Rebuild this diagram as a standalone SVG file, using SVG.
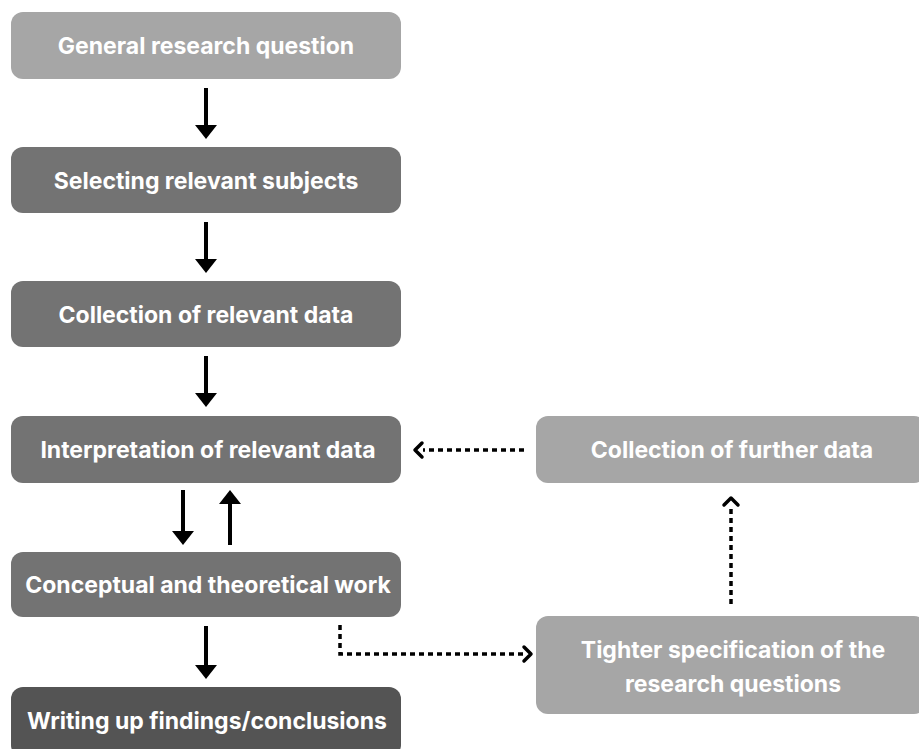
<svg xmlns="http://www.w3.org/2000/svg" width="919" height="749" viewBox="0 0 919 749">
<defs>
<style>
.t{font-family:Inter,"Liberation Sans",sans-serif;font-weight:700;font-size:23px;fill:#ffffff;text-anchor:middle}
.light{fill:#a6a6a6}
.mid{fill:#737373}
.dark{fill:#545454}
.solid{stroke:#000;stroke-width:4;fill:none}
.dot{stroke:#000;stroke-width:3.5;fill:none;stroke-dasharray:5 4}
.chev{stroke:#000;stroke-width:3.5;fill:none;stroke-linecap:round;stroke-linejoin:round}
</style>
</defs>
<rect width="919" height="749" fill="#ffffff"/>
<g id="n1"><rect class="light" x="11" y="12" width="390" height="67" rx="12"/><text class="t" x="206" y="54">General research question</text></g>
<g id="n2"><rect class="mid" x="11" y="147" width="390" height="66" rx="12"/><text class="t" x="206" y="189">Selecting relevant subjects</text></g>
<g id="n3"><rect class="mid" x="11" y="281" width="390" height="66" rx="12"/><text class="t" x="206" y="323">Collection of relevant data</text></g>
<g id="n4"><rect class="mid" x="11" y="416" width="390" height="67" rx="12"/><text class="t" x="208" y="458">Interpretation of relevant data</text></g>
<g id="n5"><rect class="mid" x="11" y="552" width="390" height="65" rx="12"/><text class="t" x="208" y="593">Conceptual and theoretical work</text></g>
<g id="n6"><rect class="dark" x="11" y="687" width="390" height="70" rx="12"/><text class="t" x="207" y="729">Writing up findings/conclusions</text></g>
<g id="n7"><rect class="light" x="536" y="416" width="390" height="67" rx="12"/><text class="t" x="732" y="458">Collection of further data</text></g>
<g id="n8"><rect class="light" x="536" y="616" width="390" height="98" rx="12"/><text class="t" x="733" y="658">Tighter specification of the</text><text class="t" x="733" y="692">research questions</text></g>
<g id="connectors">
<g fill="#000">
<line class="solid" x1="206" y1="88" x2="206" y2="126"/><path d="M195,125 L217,125 L206,139 Z"/>
<line class="solid" x1="206" y1="222" x2="206" y2="260"/><path d="M195,259 L217,259 L206,273 Z"/>
<line class="solid" x1="206" y1="356" x2="206" y2="394"/><path d="M195,393 L217,393 L206,407 Z"/>
<line class="solid" x1="183" y1="490" x2="183" y2="532"/><path d="M172,531 L194,531 L183,545 Z"/>
<line class="solid" x1="230" y1="545" x2="230" y2="503"/><path d="M219,504 L241,504 L230,490 Z"/>
<line class="solid" x1="206" y1="626" x2="206" y2="666"/><path d="M195,665 L217,665 L206,679 Z"/>
</g>
<line class="dot" x1="524" y1="450" x2="423" y2="450"/>
<path class="chev" d="M422,443 L415,450 L422,457"/>
<line class="dot" x1="731" y1="604" x2="731" y2="506"/>
<path class="chev" d="M724,505 L731,498 L738,505"/>
<path class="dot" d="M340,625 L340,654 L524,654"/>
<path class="chev" d="M524,647 L531,654 L524,661"/>
</g>
</svg>
